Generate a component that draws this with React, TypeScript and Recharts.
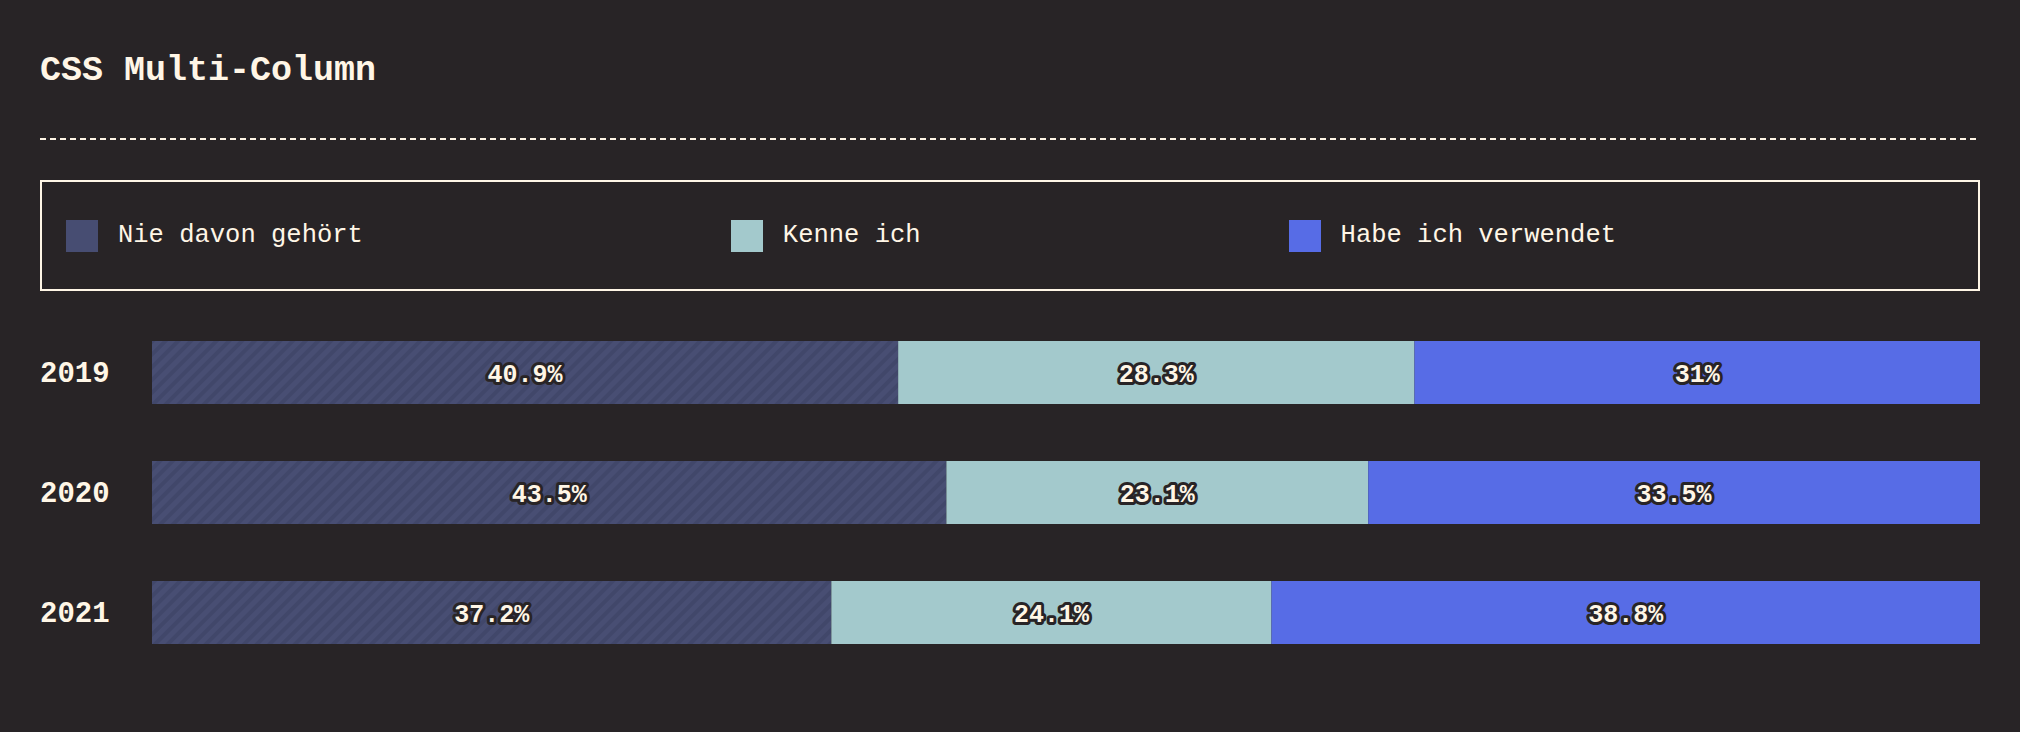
import React from 'react'
import { BarChart, Bar, XAxis, YAxis, LabelList } from 'recharts'

const years = ['2019', '2020', '2021']
const neverHeard = [40.9, 43.5, 37.2]
const knowIt = [28.3, 23.1, 24.1]
const usedIt = [31, 33.5, 38.8]

const seriesNames = ['Nie davon gehört', 'Kenne ich', 'Habe ich verwendet']
const seriesKeys = ['never', 'know', 'used']
const seriesColors = ['#474d72', '#a3c9cc', '#576ce6']
const seriesValues = [neverHeard, knowIt, usedIt]

const BG = '#282426'
const CREAM = '#fff6e6'
const MONO = '"Liberation Mono", "DejaVu Sans Mono", monospace'

const data = years.map((year, i) => ({
  year,
  never: neverHeard[i],
  know: knowIt[i],
  used: usedIt[i],
}))

if (typeof document !== 'undefined') {
  document.body.style.margin = '0'
  document.body.style.background = BG
}

function makeLabel(values: number[]) {
  return (props: any) => {
    const { x, y, width, height, index } = props
    const v = values[index]
    return (
      <text
        x={Number(x) + Number(width) / 2}
        y={Number(y) + Number(height) / 2}
        dy="0.36em"
        textAnchor="middle"
        fontFamily={MONO}
        fontWeight={700}
        fontSize={25}
        fill={CREAM}
        stroke={BG}
        strokeWidth={6}
        strokeLinejoin="round"
        paintOrder="stroke"
      >
        {`${v}%`}
      </text>
    )
  }
}

const YearTick = (props: any) => {
  const { y, payload } = props
  return (
    <text
      x={40}
      y={y}
      dy="0.36em"
      textAnchor="start"
      fontFamily={MONO}
      fontWeight={700}
      fontSize={29}
      fill={CREAM}
    >
      {payload.value}
    </text>
  )
}

export default function App() {
  return (
    <div style={{ position: 'relative', width: 2020, height: 732, background: BG, overflow: 'hidden' }}>
      <div
        style={{
          position: 'absolute',
          left: 40,
          top: 54,
          fontFamily: MONO,
          fontWeight: 700,
          fontSize: 35,
          lineHeight: '35px',
          color: CREAM,
          whiteSpace: 'nowrap',
        }}
      >
        CSS Multi-Column
      </div>

      <svg style={{ position: 'absolute', left: 0, top: 0 }} width={2020} height={150}>
        <line x1={40} y1={139} x2={1980} y2={139} stroke={CREAM} strokeWidth={2} strokeDasharray="6 4" />
      </svg>

      <div
        style={{
          position: 'absolute',
          left: 40,
          top: 180,
          width: 1940,
          height: 111,
          boxSizing: 'border-box',
          border: `2px solid ${CREAM}`,
          display: 'flex',
          alignItems: 'center',
          paddingLeft: 24,
          gap: 368,
        }}
      >
        {seriesNames.map((name, i) => (
          <div key={name} style={{ display: 'flex', alignItems: 'center' }}>
            <div style={{ width: 32, height: 32, background: seriesColors[i], marginRight: 20 }} />
            <span
              style={{
                fontFamily: MONO,
                fontSize: 25.5,
                color: CREAM,
                whiteSpace: 'nowrap',
              }}
            >
              {name}
            </span>
          </div>
        ))}
      </div>

      <div style={{ position: 'absolute', left: 0, top: 300 }}>
        <BarChart
          width={2020}
          height={380}
          data={data}
          layout="vertical"
          stackOffset="expand"
          margin={{ top: 12, right: 40, bottom: 8, left: 0 }}
          barSize={63}
        >
          <defs>
            <pattern
              id="stripes"
              patternUnits="userSpaceOnUse"
              width={9}
              height={9}
              patternTransform="rotate(45)"
            >
              <rect width={9} height={9} fill="#484e73" />
              <rect width={4} height={9} fill="#41476a" />
            </pattern>
          </defs>
          <XAxis type="number" hide domain={[0, 1]} />
          <YAxis
            type="category"
            dataKey="year"
            width={152}
            axisLine={false}
            tickLine={false}
            tick={<YearTick />}
          />
          {seriesKeys.map((key, i) => (
            <Bar
              key={key}
              dataKey={key}
              name={seriesNames[i]}
              stackId="a"
              fill={i === 0 ? 'url(#stripes)' : seriesColors[i]}
              isAnimationActive={false}
            >
              <LabelList dataKey={key} content={makeLabel(seriesValues[i])} />
            </Bar>
          ))}
        </BarChart>
      </div>
    </div>
  )
}
